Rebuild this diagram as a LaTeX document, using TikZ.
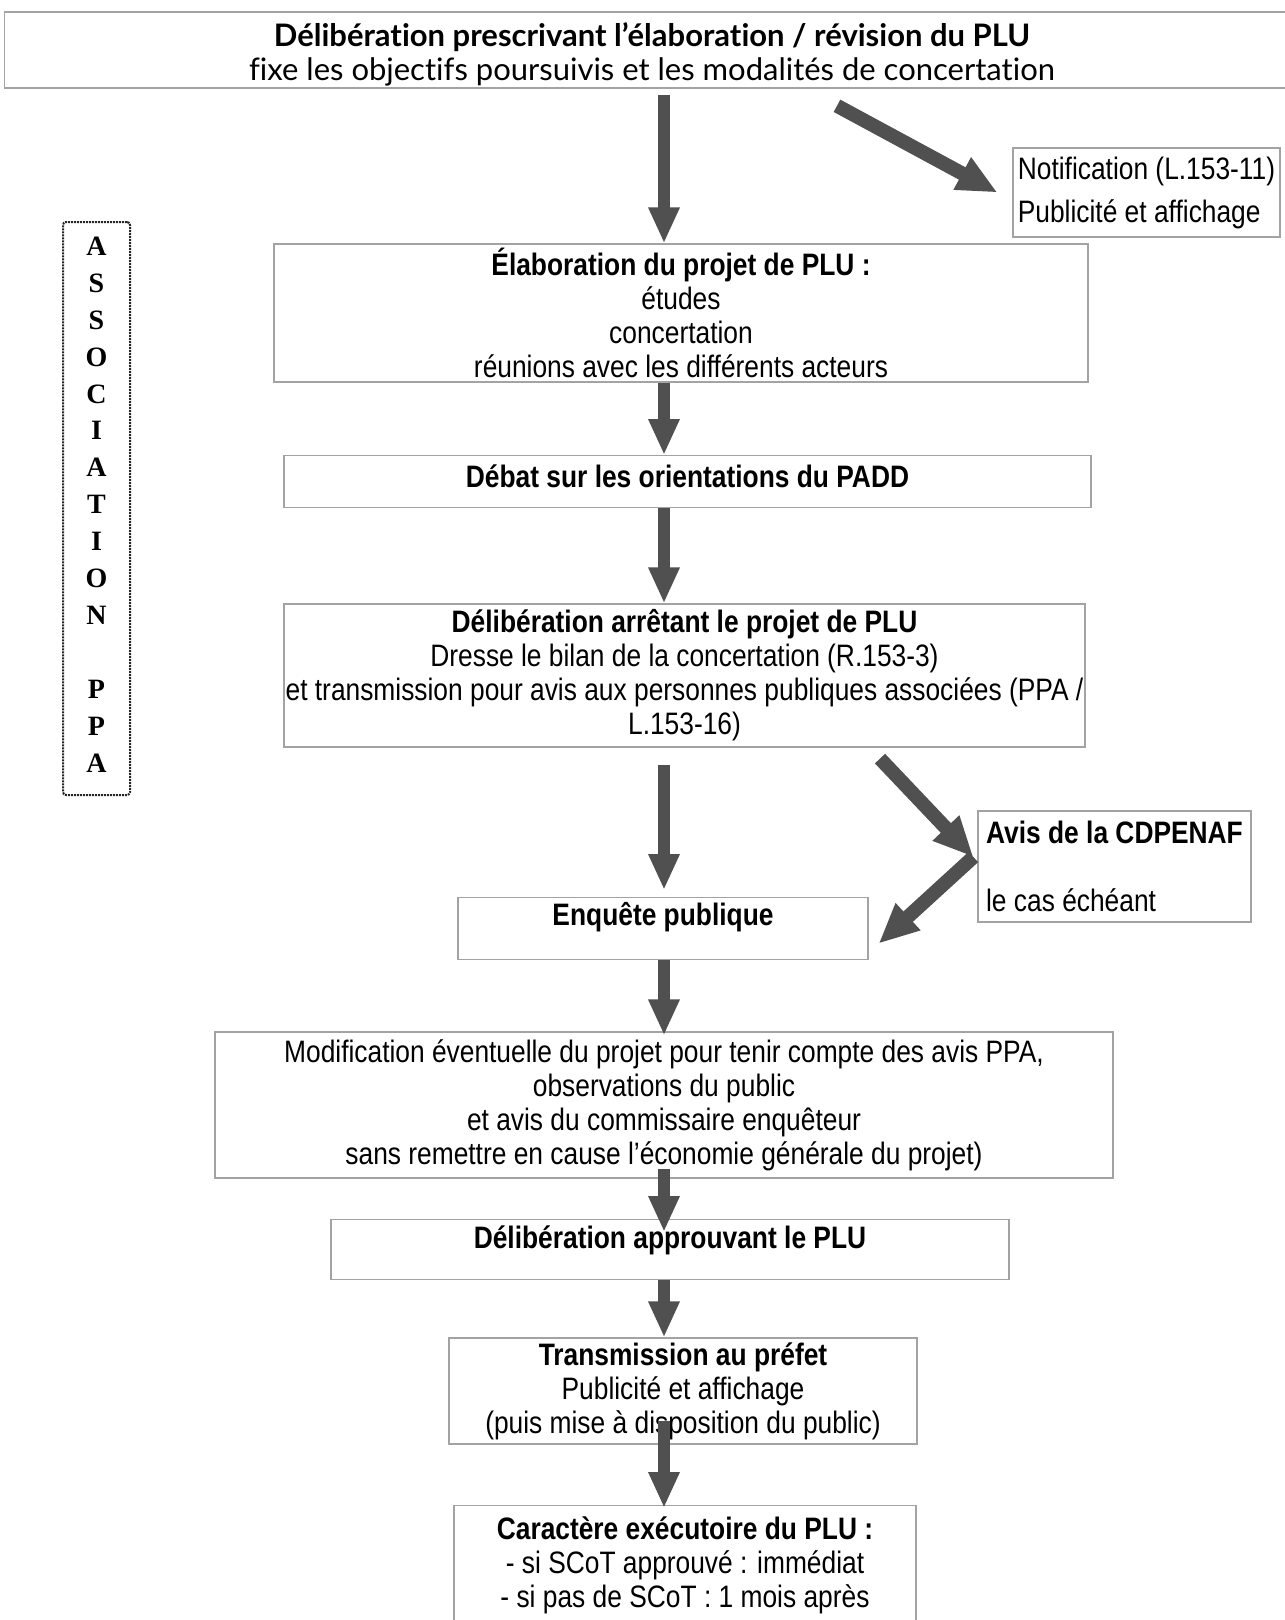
\documentclass[tikz,border=0pt]{standalone}
\usepackage{fontspec}
\setmainfont{Liberation Sans}[FakeStretch=0.85]
\newfontfamily\titlefont{Lato}[Ligatures=NoCommon]
\newfontfamily\ppafont{Liberation Serif}
\usetikzlibrary{arrows.meta}
\definecolor{boxgray}{HTML}{A3A3A3}
\definecolor{arrowgray}{HTML}{505050}
\tikzset{
x=1pt, y=-1pt, % pixel-like units, y grows downwards
box/.style={draw=boxgray, line width=1.2pt, inner sep=0pt, align=center, font=\fontsize{31}{34}\selectfont}, % one step of the procedure
sidebox/.style={box, align=left}, % the boxes on the right
flow/.style={draw=arrowgray, line width=12pt, -{Triangle[length=36pt,width=29pt]}}, % thick grey arrows
sideflow/.style={flow, line width=14pt, -{Triangle[length=40pt,width=34pt]}}, % the slanted ones
}

\begin{document}
\begin{tikzpicture}
\useasboundingbox (0,0) rectangle (1285,1620);

\node[box, minimum width=1295pt, minimum height=76pt, line width=1.6pt, font=\titlefont\fontsize{31}{34}\selectfont] (top) at (652,50)
  {\rule{0pt}{33pt}\textbf{Délibération prescrivant l’élaboration / révision du PLU}\\fixe les objectifs poursuivis et les modalités de concertation};
\node[sidebox, minimum width=267pt, minimum height=89pt] (notif) at (1146.5,192.5) {Notification (L.153-11)\\[9pt]Publicité et affichage};

\node[draw=black!85, densely dotted, line width=2pt, rounded corners=3pt, minimum width=67pt, minimum height=573pt, inner sep=0pt, align=center,
  font=\ppafont\bfseries\fontsize{28}{36.9}\selectfont] (ppa) at (96.5,508.5)
  {A\\S\\S\\O\\C\\I\\A\\T\\I\\O\\N\\[36.9pt]P\\P\\A\rule[-8pt]{0pt}{0pt}};

\node[box, minimum width=814pt, minimum height=138pt] (elab) at (681,313)
  {\textbf{Élaboration du projet de PLU :}\\études\\concertation\\réunions avec les différents acteurs};
\node[box, anchor=north, minimum width=807pt, text height=32pt, text depth=20pt] (debat) at (687.5,455) {\textbf{Débat sur les orientations du PADD}};
\node[box, minimum width=801pt, minimum height=143pt] (arret) at (684.5,675.5)
  {\textbf{Délibération arrêtant le projet de PLU}\\Dresse le bilan de la concertation (R.153-3)\\et transmission pour avis aux personnes publiques associées (PPA /\\L.153-16)};
\node[sidebox, minimum width=273pt, minimum height=111pt] (cdp) at (1114.5,866.5) {\textbf{Avis de la CDPENAF}\\[34pt]le cas échéant};
\node[box, anchor=north, minimum width=410pt, text height=28pt, text depth=34pt] (enq) at (663,897) {\textbf{Enquête publique}};
\node[box, minimum width=898pt, minimum height=146pt] (modif) at (664,1105)
  {Modification éventuelle du projet pour tenir compte des avis PPA,\\observations du public\\et avis du commissaire enquêteur\\sans remettre en cause l’économie générale du projet)};
\node[box, anchor=north, minimum width=678pt, text height=29pt, text depth=31pt] (appr) at (670,1219) {\textbf{Délibération approuvant le PLU}};
\node[box, minimum width=468pt, minimum height=106pt] (trans) at (683,1391)
  {\textbf{Transmission au préfet}\\Publicité et affichage\\(puis mise à disposition du public)};
\node[box, anchor=north, minimum width=462pt, minimum height=120pt] (exec) at (685,1505)
  {\textbf{Caractère exécutoire du PLU :}\\- si SCoT approuvé : immédiat\\- si pas de SCoT : 1 mois après};

% main line of the procedure
\coordinate (axis) at (664,0);
\draw[flow, shorten <=6pt] (top.south -| axis) -- (elab.north -| axis);
\draw[flow] (elab.south -| axis) -- (debat.north -| axis);
\draw[flow] (debat.south -| axis) -- (arret.north -| axis);
\draw[flow, shorten <=17pt, shorten >=7pt] (arret.south -| axis) -- (enq.north -| axis);
\draw[flow, shorten >=-4pt] (enq.south -| axis) -- (modif.north -| axis);
\draw[flow, shorten <=-10pt, shorten >=-13pt] (modif.south -| axis) -- (appr.north -| axis);
\draw[flow] (appr.south -| axis) -- (trans.north -| axis);
\draw[flow, shorten <=-24pt, shorten >=-3pt] (trans.south -| axis) -- (exec.north -| axis);

% side branches
\draw[sideflow] ([shift={(185pt,-17pt)}]top.south) -- ([xshift=-15pt]notif.west);
\coordinate (bend) at ([shift={(-4pt,9.5pt)}]cdp.west);
\draw[sideflow] ([shift={(195.5pt,-11pt)}]arret.south) -- (bend);
\draw[sideflow] (bend) -- ([shift={(10pt,-15pt)}]enq.east);
\end{tikzpicture}
\end{document}
